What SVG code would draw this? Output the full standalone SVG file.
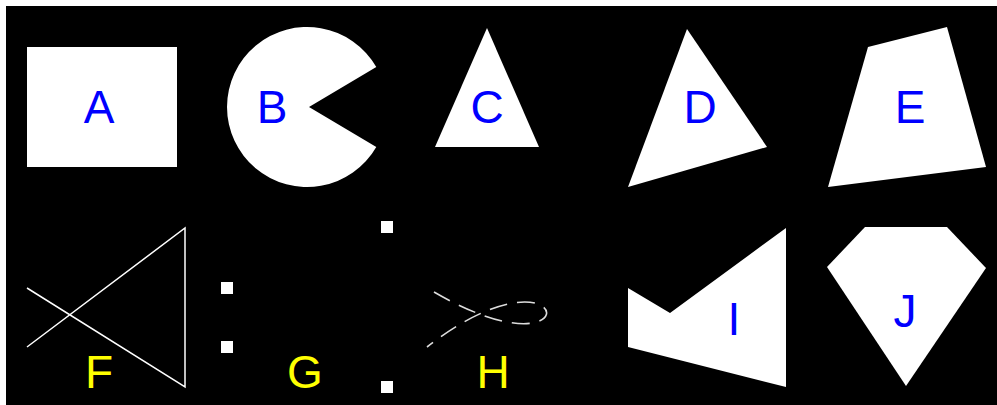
<svg xmlns="http://www.w3.org/2000/svg" width="997" height="405" viewBox="0 0 997 405">
<style>
.shape{fill:#fff;stroke:none}
.lbl{font-family:"Liberation Sans",Arial,sans-serif;font-size:46px;text-anchor:middle}
.blue{fill:#0000ff}
.yellow{fill:#ffff00}
.line{fill:none;stroke:#fff;stroke-width:1.5}
.dash{fill:none;stroke:#ddd;stroke-width:1.6;stroke-dasharray:18 10}
</style>
<rect x="0" y="0" width="997" height="405" fill="#fff"/>
<rect x="6" y="6" width="991" height="399" fill="#000"/>
<g id="A"><rect class="shape" x="27" y="47" width="150" height="120"/><text class="lbl blue" x="99" y="123">A</text></g>
<g id="B"><path class="shape" d="M309 107 L376.3 67 A80 80 0 1 0 376.3 147 Z"/><text class="lbl blue" x="272" y="123">B</text></g>
<g id="C"><polygon class="shape" points="487,28 539,147 435,147"/><text class="lbl blue" x="487" y="123">C</text></g>
<g id="D"><polygon class="shape" points="687,29 767,147 628,187"/><text class="lbl blue" x="700" y="123">D</text></g>
<g id="E"><polygon class="shape" points="868,47 947,27 986,167 828,187"/><text class="lbl blue" x="910" y="123">E</text></g>
<g id="F"><polyline class="line" points="27,288 185,387 185,228 27,347"/><text class="lbl yellow" x="99" y="388">F</text></g>
<g id="G"><rect class="shape" x="221" y="282" width="12" height="12"/><rect class="shape" x="221" y="341" width="12" height="12"/><rect class="shape" x="381" y="221" width="12" height="12"/><rect class="shape" x="381" y="381" width="12" height="12"/><text class="lbl yellow" x="305" y="388">G</text></g>
<g id="H"><path class="dash" d="M434 292 C595 385 575 232 427 347"/><text class="lbl yellow" x="493" y="388">H</text></g>
<g id="I"><polygon class="shape" points="628,288 670,313 786,228 786,387 628,347"/><text class="lbl blue" x="734" y="335">I</text></g>
<g id="J"><polygon class="shape" points="865,227 947,227 986,268 906,386 827,267"/><text class="lbl blue" x="905" y="327">J</text></g>
<g id="connectors"></g>
</svg>
